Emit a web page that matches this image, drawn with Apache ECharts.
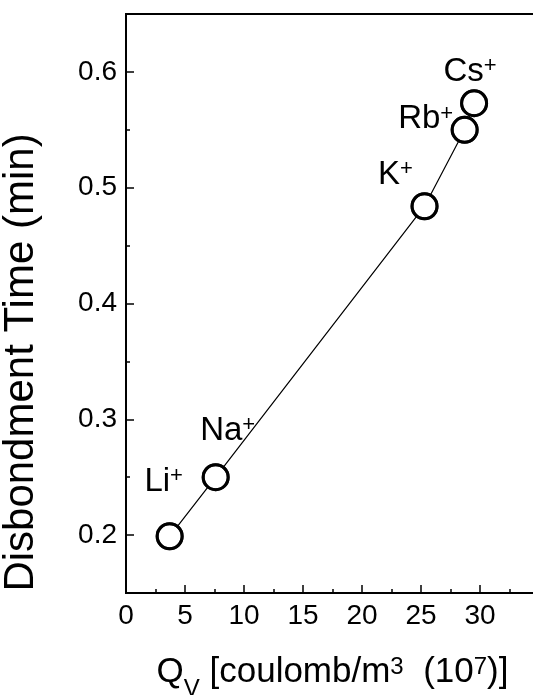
<!DOCTYPE html>
<html>
<head>
<meta charset="utf-8">
<script src="https://cdn.jsdelivr.net/npm/echarts@6/dist/echarts.min.js"></script>
<style>
  html, body { margin: 0; padding: 0; background: #fff; }
  #chart { width: 533px; height: 695px; }
</style>
</head>
<body>
<div id="chart"></div>
<script>
const ions = ["Li", "Na", "K", "Rb", "Cs"];
const charge = [3.7, 7.6, 25.3, 28.7, 29.5];   // Q_V, 10^7 C/m3
const disbond = [0.199, 0.25, 0.484, 0.55, 0.573]; // min
const yMajor = [0.2, 0.3, 0.4, 0.5, 0.6];
const yMinor = [0.25, 0.35, 0.45, 0.55];

// where each ion label sits relative to its circle
const labelOffset = {
  Li: [-6, -54],
  Na: [12, -46],
  K: [-29, -31],
  Rb: [-39, -10],
  Cs: [-4, -31],
};

const font = "'Liberation Sans', Arial, sans-serif";
const points = ions.map((name, i) => ({ name, value: [charge[i], disbond[i]] }));

const chart = echarts.init(document.getElementById("chart"));

chart.setOption({
  backgroundColor: "#fff",
  animation: false,
  grid: {
    left: 126, top: 14, width: 413, height: 579,
    outerBoundsMode: "none",
    show: true, borderColor: "#000", borderWidth: 2, backgroundColor: "transparent",
  },
  xAxis: {
    type: "value",
    min: 0, max: 35, interval: 5,
    axisLine: { lineStyle: { color: "#000", width: 2 } },
    axisTick: { inside: true, length: 8, lineStyle: { color: "#000", width: 1.5 } },
    minorTick: { show: true, splitNumber: 2, length: 4, lineStyle: { color: "#000", width: 1.5 } },
    axisLabel: { color: "#000", fontSize: 28, fontFamily: font, margin: 9, showMaxLabel: false },
    splitLine: { show: false },
    name: "{q|Q}{v|V}{t| [coulomb/m}{p|3}{t|  (10}{p|7}{t|)]}",
    nameLocation: "middle",
    nameGap: 62,
    nameTextStyle: {
      rich: {
        q: { fontSize: 35, lineHeight: 38, verticalAlign: "top", fontFamily: font, color: "#000" },
        t: { fontSize: 35, lineHeight: 38, verticalAlign: "top", fontFamily: font, color: "#000" },
        v: { fontSize: 24, lineHeight: 46, verticalAlign: "bottom", fontFamily: font, color: "#000" },
        p: { fontSize: 24, lineHeight: 30, verticalAlign: "top", fontFamily: font, color: "#000" },
      },
    },
  },
  yAxis: [
    {
      type: "value",
      position: "left",
      min: 0.15, max: 0.65,
      axisLine: { lineStyle: { color: "#000", width: 2 } },
      axisTick: { inside: true, length: 8, customValues: yMajor, lineStyle: { color: "#000", width: 1.5 } },
      axisLabel: {
        customValues: yMajor,
        formatter: (v) => v.toFixed(1),
        color: "#000", fontSize: 28, fontFamily: font, margin: 9,
      },
      splitLine: { show: false },
      name: "Disbondment Time (min)",
      nameLocation: "middle",
      nameGap: 84,
      nameTextStyle: { color: "#000", fontSize: 42, fontFamily: font, padding: [0, 118, 0, 0] },
    },
    {
      type: "value",
      position: "left",
      min: 0.15, max: 0.65,
      axisLine: { show: false },
      axisTick: { inside: true, length: 4, customValues: yMinor, lineStyle: { color: "#000", width: 1.5 } },
      axisLabel: { show: false },
      splitLine: { show: false },
    },
  ],
  series: [
    {
      type: "line",
      data: points,
      symbol: "circle",
      symbolSize: 25,
      itemStyle: { color: "#fff", borderColor: "#000", borderWidth: 3 },
      lineStyle: { color: "#000", width: 1.2 },
      label: {
        show: true,
        position: "inside",
        color: "#000",
        textBorderWidth: 0,
        formatter: (p) => `{b|${p.name}}{s|+}`,
        rich: {
          b: { fontSize: 33, lineHeight: 34, verticalAlign: "top", fontFamily: font, color: "#000" },
          s: { fontSize: 22, lineHeight: 22, verticalAlign: "top", fontFamily: font, color: "#000" },
        },
      },
      labelLayout: (params) => {
        const off = labelOffset[ions[params.dataIndex]];
        return { dx: off[0], dy: off[1] };
      },
      z: 2,
    },
    {
      type: "scatter",
      data: points,
      symbol: "circle",
      symbolSize: 25,
      itemStyle: { color: "transparent", borderColor: "#000", borderWidth: 3 },
      z: 3,
    },
  ],
});
</script>
</body>
</html>
